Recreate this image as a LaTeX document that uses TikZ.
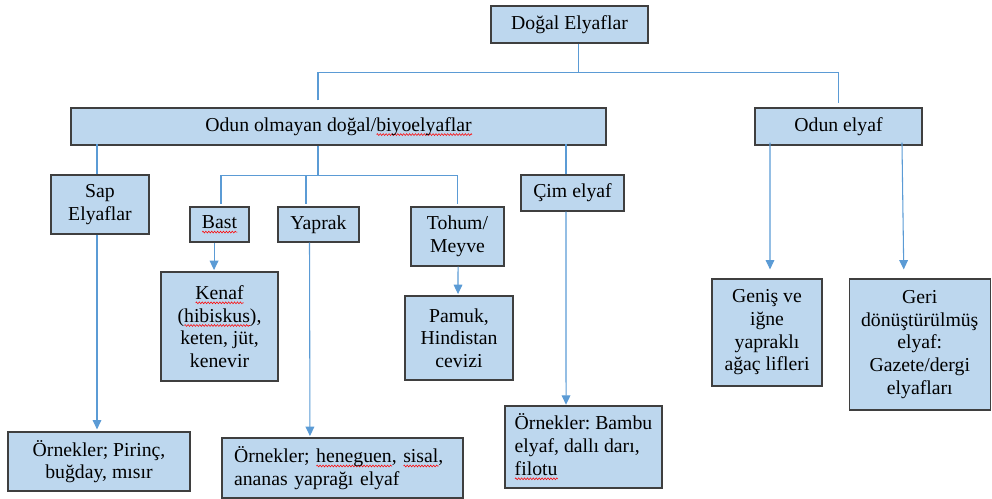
\documentclass[tikz,border=0pt]{standalone}
\usepackage{fontspec}
\setmainfont{Liberation Serif}
\usetikzlibrary{arrows.meta, decorations.pathmorphing}
\definecolor{boxfill}{HTML}{BDD7EE}
\definecolor{boxedge}{HTML}{3F3F3F}
\definecolor{linkblue}{HTML}{5B9BD5}
\newsavebox{\spellbox}
\newlength{\spellwd}
% red wavy line under a word, as the spell check marks it
\newcommand{\spell}[1]{\sbox{\spellbox}{#1}\setlength{\spellwd}{\wd\spellbox}%
  \rlap{\tikz[x=1pt, y=1pt, baseline=0pt]\draw[red, line width=0.4pt, decorate,
    decoration={zigzag, amplitude=0.7pt, segment length=2.2pt}] (0,-2.6) -- (\spellwd,-2.6);}%
  \usebox{\spellbox}}
\tikzset{
  box/.style={draw=boxedge, fill=boxfill, line width=0.9pt, inner sep=0pt, align=center,
    font=\fontsize{14.8}{17}\selectfont\frenchspacing},
  link/.style={draw=linkblue, line width=0.8pt},
  arrow/.style={link, -{Triangle[length=7pt,width=6.5pt]}}
}
\begin{document}
\begin{tikzpicture}[x=0.75pt, y=-0.75pt]
    \useasboundingbox (0,0) rectangle (992,499);

    \node (root)[box, minimum width=117.75pt, minimum height=27.75pt] at (569.5,24.5) {Doğal Elyaflar};
    \node (nonwood)[box, minimum width=401.25pt, minimum height=27.75pt] at (338.5,126.5) {Odun olmayan doğal/\spell{biyoelyaflar}};
    \node (wood)[box, minimum width=125.25pt, minimum height=27.75pt] at (838.5,126.5) {Odun elyaf};

    \node (sap)[box, minimum width=73.5pt, minimum height=44.25pt] at (100,204.5) {Sap\\Elyaflar};
    \node (bast)[box, minimum width=44.25pt, minimum height=26.25pt] at (219.5,224.5) {\spell{Bast}};
    \node (yaprak)[box, minimum width=60.75pt, minimum height=26.25pt] at (318.5,224.5) {Yaprak};
    \node (tohum)[box, minimum width=69.75pt, minimum height=44.25pt] at (457.5,236.5) {Tohum/\\Meyve};
    \node (cim)[box, minimum width=77.25pt, minimum height=27pt] at (572.5,193) {Çim elyaf};

    \node (kenaf)[box, minimum width=87.75pt, minimum height=81.75pt] at (219.5,326.5) {\spell{Kenaf}\\(\spell{hibiskus}),\\keten, jüt,\\kenevir};
    \node (pamuk)[box, minimum width=81pt, minimum height=63pt] at (459,338) {Pamuk,\\Hindistan\\cevizi};

    \node (pirinc)[box, minimum width=136.5pt, minimum height=44.25pt] at (99,461.5) {Örnekler; Pirinç,\\buğday, mısır};
    \node (heneguen)[box, minimum height=45pt, inner xsep=9pt, text width=162.75pt, align=left] at (342.5,468) {Örnekler; \spell{heneguen}, \spell{sisal},\\ananas yaprağı elyaf};
    \node (bambu)[box, minimum width=117.75pt, minimum height=61.5pt, align=left] at (583.5,447) {Örnekler: Bambu\\elyaf, dallı darı,\\\spell{filotu}};

    \node (genis)[box, minimum width=82.5pt, minimum height=80.25pt] at (767,332.5) {Geniş ve\\iğne\\yapraklı\\ağaç lifleri};
    \node (geri)[box, minimum width=105.75pt, minimum height=98.25pt] at (919.75,344.5) {Geri\\dönüştürülmüş\\elyaf:\\Gazete/dergi\\elyafları};

    % top level
    \draw[link] ([xshift=6.4pt]root.south) -- ++(0,-21.75pt) coordinate (b1);
    \draw[link] ([xshift=-15.4pt,yshift=5.25pt]nonwood.north) |- (b1) -| ([yshift=3pt]wood.north);

    % non wood fibres
    \draw[link] ([xshift=-2.25pt]sap.north) -- ++(0,22.5pt);
    \draw[link] ([xshift=-4.9pt]cim.north) -- ++(0,22.5pt);
    \draw[link] ([xshift=-15.4pt]nonwood.south) -- ++(0,-22.5pt) coordinate (b2);
    \draw[link] ([xshift=1.1pt,yshift=2pt]bast.north) |- (b2) -| ([yshift=2pt]tohum.north);
    \draw[link] ([xshift=-9.4pt,yshift=2pt]yaprak.north) |- (b2);

    \draw[arrow] ([xshift=-4.1pt]bast.south) -- ([xshift=-4.1pt,yshift=1pt]kenaf.north);
    \draw[arrow] ([xshift=0.4pt]tohum.south) -- ([xshift=-0.75pt,yshift=1pt]pamuk.north);
    \draw[arrow] ([xshift=-2.25pt]sap.south) -- ([xshift=-1.5pt,yshift=1.5pt]pirinc.north);
    \draw[arrow] ([xshift=-6.75pt]yaprak.south) -- ([xshift=-24.4pt,yshift=1pt]heneguen.north);
    \draw[arrow] ([xshift=-4.9pt]cim.south) -- ([xshift=-13.1pt,yshift=0.5pt]bambu.north);

    % wood fibres
    \draw[arrow] ([xshift=-51.4pt,yshift=2.25pt]wood.south) -- ([xshift=2.25pt,yshift=6.75pt]genis.north);
    \draw[arrow] ([xshift=47.6pt,yshift=2.25pt]wood.south) -- ([xshift=-12pt,yshift=6.75pt]geri.north);
\end{tikzpicture}
\end{document}
